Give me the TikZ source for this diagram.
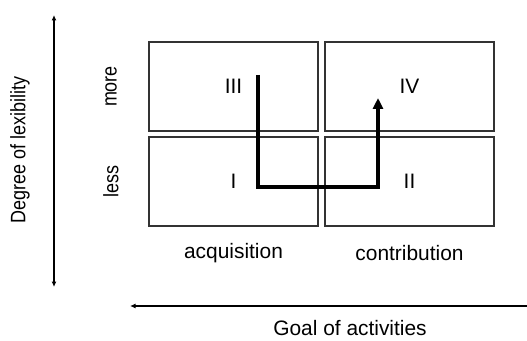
\documentclass[tikz,border=0pt]{standalone}
\usepackage{fontspec}
\setmainfont{Liberation Sans}
\usetikzlibrary{arrows.meta}

\begin{document}
\begin{tikzpicture}
	[%
	x=0.02cm, y=-0.02cm,%
	font=\fontsize{11.9}{14}\selectfont,%
	field/.style ={rectangle,	draw=black!80,	line width=0.6pt,	inner sep=0pt,	minimum width=3.38cm,	minimum height=1.78cm},%
	side/.style  ={rotate=90,	xscale=0.86},%
	axis/.style  ={line width=0.6pt},%
	route/.style ={line width=2.3pt,	line join=miter,	-{Triangle[length=2.2mm, width=2mm]}},%
	]

	\useasboundingbox (0,0) rectangle (527,341);

	\newcommand\colacq{233.5}
	\newcommand\colcon{409.5}
	\newcommand\rowmore{86.5}
	\newcommand\rowless{181.5}

	% nodes
	\node (field1) at (\colacq,\rowless) [field] {I};
	\node (field2) at (\colcon,\rowless) [field] {II};
	\node (field3) at (\colacq,\rowmore) [field] {III};
	\node (field4) at (\colcon,\rowmore) [field] {IV};

	\node (acq)  at (\colacq,253) {acquisition};
	\node (con)  at (\colcon,253) {contribution};
	\node (goal) at (350,328) {Goal of activities};

	\node (more)   at (111,\rowmore) [side] {more};
	\node (less)   at (111,\rowless) [side] {less};
	\node (degree) at (20,150) [side] {Degree of lexibility};

	\coordinate (flextop) at (54,15);
	\coordinate (flexbot) at (54,287);
	\coordinate (goalright) at (527,306);
	\coordinate (goalleft)  at (130,306);

	\coordinate (routestart) at (258,75);
	\coordinate (routebend1) at (258,187);
	\coordinate (routebend2) at (378,187);
	\coordinate (routeend)   at (378,98);

	% interconnections
	\draw [axis, {Latex[length=1.1mm, width=1mm]}-{Latex[length=1.1mm, width=1mm]}] (flextop) -- (flexbot);
	\draw [axis, -{Latex[length=1.1mm, width=1mm]}] (goalright) -- (goalleft);
	\draw [route] (routestart) -- (routebend1) -- (routebend2) -- (routeend);

\end{tikzpicture}
\end{document}
